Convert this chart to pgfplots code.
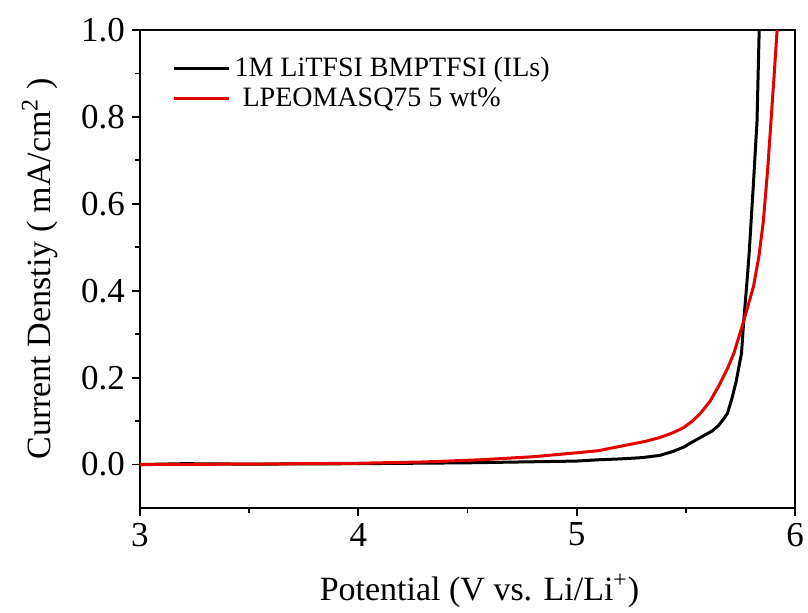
\documentclass[border=0pt]{standalone}
\usepackage{fontspec}
\setmainfont{Liberation Serif}
\usepackage{pgfplots}
\pgfplotsset{compat=1.18}
\begin{document}
\begin{tikzpicture}
\begin{axis}[
  at={(0,0)}, anchor=south west,
  width=327.5pt, height=239pt, scale only axis,
  xmin=3, xmax=6, ymin=-0.1, ymax=1.0,
  xtick={3,4,5,6}, xticklabels={3,4,5,6},
  ytick={0,0.2,0.4,0.6,0.8,1.0}, yticklabels={0.0,0.2,0.4,0.6,0.8,1.0},
  minor x tick num=1, minor y tick num=1,
  tick align=outside, xtick pos=bottom, ytick pos=left,
  major tick length=4pt, minor tick length=2.5pt,
  axis line style={line width=1pt}, tick style={line width=0.9pt, black},
  ticklabel style={font=\fontsize{17.5}{20}\selectfont},
  xlabel={Potential (V vs. Li/Li\textsuperscript{+})},
  ylabel={Current Denstiy ( mA/cm\textsuperscript{2} )},
  label style={font=\fontsize{17}{20}\selectfont},
  xlabel style={yshift=-7pt, xshift=6pt},
  ylabel style={yshift=5pt},
  legend style={draw=none, fill=none, at={(rel axis cs:0.04,0.96)}, anchor=north west,
    font=\fontsize{14}{16}\selectfont, row sep=0pt},
  legend cell align=left,
  legend image code/.code={\draw[#1, line width=1.5pt] (0pt,0pt) -- (27.5pt,0pt);},
]
\addplot[black, line width=1.5pt] coordinates {
(3.00,0.000) (3.20,0.002) (3.50,0.001) (4.00,0.002) (4.50,0.004) (5.00,0.008)
(5.10,0.011) (5.20,0.013) (5.30,0.016) (5.38,0.021) (5.44,0.030) (5.49,0.040)
(5.53,0.052) (5.58,0.066) (5.62,0.077) (5.65,0.090) (5.67,0.103) (5.69,0.117)
(5.71,0.150) (5.73,0.190) (5.745,0.230) (5.755,0.256) (5.765,0.330) (5.78,0.420)
(5.79,0.486) (5.81,0.650) (5.826,0.790) (5.836,1.000)
};
\addlegendentry{1M LiTFSI BMPTFSI (ILs)}
\addplot[red!90!black, line width=1.5pt] coordinates {
(3.00,0.000) (3.50,0.001) (4.00,0.003) (4.30,0.006) (4.56,0.011) (4.80,0.018)
(5.02,0.028) (5.10,0.032) (5.26,0.048) (5.32,0.054) (5.38,0.062) (5.44,0.073)
(5.49,0.085) (5.53,0.100) (5.565,0.117) (5.61,0.145) (5.65,0.180) (5.69,0.220)
(5.72,0.256) (5.765,0.330) (5.81,0.410) (5.835,0.480) (5.855,0.560) (5.875,0.680)
(5.89,0.790) (5.905,0.900) (5.918,1.000)
};
\addlegendentry{\hspace{4pt}LPEOMASQ75 5 wt\%}
\end{axis}
\pgfresetboundingbox
\path[use as bounding box] (-70pt,-52pt) rectangle (334pt,254pt);
\end{tikzpicture}
\end{document}
